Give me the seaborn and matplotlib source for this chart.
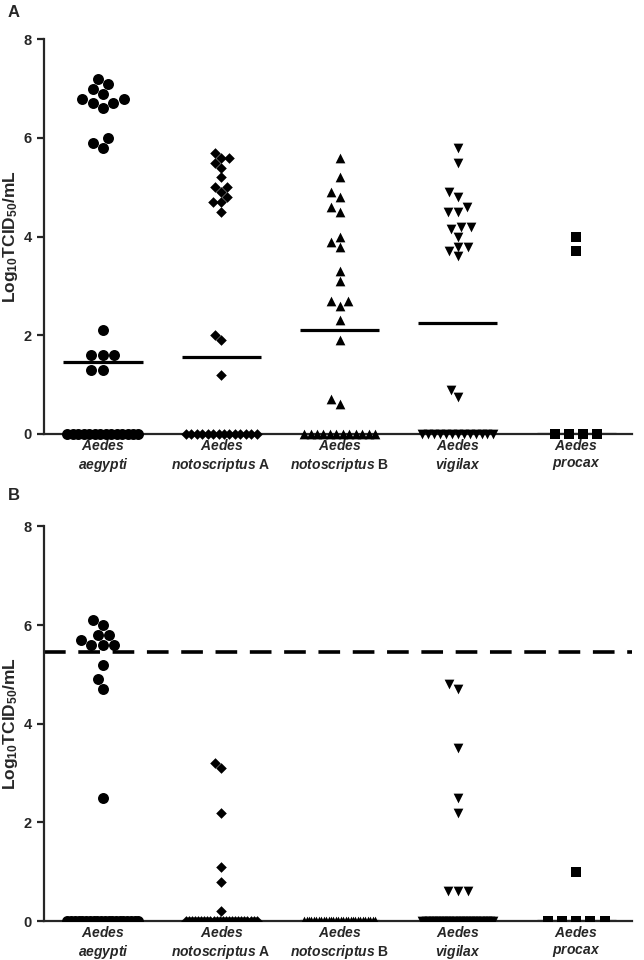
import numpy as np
import matplotlib.pyplot as plt
import pandas as pd
import seaborn as sns

species = ["aegypti", "notoscriptus A", "notoscriptus B", "vigilax", "procax"]
tick_labels = [
    r"$\mathit{Aedes}$" + "\n" + r"$\mathit{aegypti}$",
    r"$\mathit{Aedes}$" + "\n" + r"$\mathit{notoscriptus}$ A",
    r"$\mathit{Aedes}$" + "\n" + r"$\mathit{notoscriptus}$ B",
    r"$\mathit{Aedes}$" + "\n" + r"$\mathit{vigilax}$",
    r"$\mathit{Aedes}$" + "\n" + r"$\mathit{procax}$",
]
markers = ["o", "D", "^", "v", "s"]
marker_sizes = [7.9, 5.4, 7.0, 7.0, 7.0]

# panel A -- log10 TCID50/mL per mosquito
aegypti_a = [7.2, 7.1, 7.0, 6.9, 6.8, 6.8, 6.7, 6.7, 6.6, 6.0, 5.9, 5.8,
             2.1, 1.6, 1.6, 1.6, 1.3, 1.3] + [0.0] * 14
noto_a_a = [5.7, 5.6, 5.6, 5.5, 5.4, 5.2, 5.0, 5.0, 4.9, 4.8, 4.7, 4.7, 4.5,
            2.0, 1.9, 1.2] + [0.0] * 14
noto_b_a = [5.6, 5.2, 4.9, 4.8, 4.6, 4.5, 4.0, 3.9, 3.8, 3.3, 3.1, 2.7, 2.7,
            2.6, 2.3, 1.9, 0.7, 0.6] + [0.0] * 12
vigilax_a = [5.8, 5.5, 4.9, 4.8, 4.6, 4.5, 4.5, 4.2, 4.2, 4.15, 4.0, 3.8, 3.8,
             3.7, 3.6, 0.9, 0.75] + [0.0] * 13
procax_a = [4.0, 3.7] + [0.0] * 4

# panel B
aegypti_b = [6.1, 6.0, 5.8, 5.8, 5.7, 5.6, 5.6, 5.6, 5.2, 4.9, 4.7, 2.5] + [0.0] * 20
noto_a_b = [3.2, 3.1, 2.2, 1.1, 0.8, 0.2] + [0.0] * 24
noto_b_b = [0.0] * 30
vigilax_b = [4.8, 4.7, 3.5, 2.5, 2.2, 0.6, 0.6, 0.6] + [0.0] * 22
procax_b = [1.0] + [0.0] * 5
threshold_b = 5.45

sns.set_style("ticks")
plt.rcParams["font.family"] = ["Liberation Sans", "DejaVu Sans"]
plt.rcParams["font.weight"] = "bold"
plt.rcParams["mathtext.fontset"] = "custom"
plt.rcParams["mathtext.rm"] = "Liberation Sans:bold"
plt.rcParams["mathtext.it"] = "Liberation Sans:italic:bold"
plt.rcParams["mathtext.bf"] = "Liberation Sans:bold"


def draw_panel(ax, groups, clip_zero):
    df = pd.DataFrame({
        "species": np.repeat(species, [len(g) for g in groups]),
        "titre": np.concatenate(groups),
    })
    # median bars
    sns.boxplot(data=df, x="species", y="titre", order=species, ax=ax, width=0.67,
                showbox=False, showcaps=False, showfliers=False,
                whiskerprops={"visible": False},
                medianprops={"color": "black", "linewidth": 2.3})
    for i, (sp, mk, sz) in enumerate(zip(species, markers, marker_sizes)):
        sub = df[df.species == sp]
        pos = sub[sub.titre > 0]
        if len(pos):
            sns.swarmplot(data=pos, x="species", y="titre", order=species, ax=ax,
                          marker=mk, size=sz, color="black", linewidth=0, zorder=3)
        n0 = int((sub.titre == 0).sum())
        if n0:
            step = min(0.12, 0.6 / max(n0 - 1, 1))
            offs = (np.arange(n0) - (n0 - 1) / 2) * step
            sns.scatterplot(x=i + offs, y=np.zeros(n0), ax=ax, marker=mk, s=sz ** 2,
                            color="black", linewidth=0, clip_on=clip_zero, zorder=3)
    ax.set_xlim(-0.5, 4.47)
    ax.set_ylim(0, 8)
    ax.set_yticks([0, 2, 4, 6, 8])
    ax.set_xticks(range(len(species)))
    ax.set_xticklabels(tick_labels, fontsize=10, linespacing=1.25)
    ax.set_xlabel("")
    ax.set_ylabel("Log$_{10}$TCID$_{50}$/mL", fontsize=12.5, fontweight="bold")
    ax.yaxis.set_label_coords(-0.04, 0.5)
    ax.tick_params(axis="x", length=0, pad=3)
    ax.tick_params(axis="y", length=5, width=1.6, labelsize=10.5)
    for lab in ax.get_yticklabels():
        lab.set_fontweight("bold")
    sns.despine(ax=ax)
    for s in ["left", "bottom"]:
        ax.spines[s].set_linewidth(1.6)


fig = plt.figure(figsize=(6.44, 9.6), dpi=100)
ax_a = fig.add_axes([0.068, 0.548, 0.913, 0.411])
ax_b = fig.add_axes([0.068, 0.0406, 0.913, 0.411])

draw_panel(ax_a, [aegypti_a, noto_a_a, noto_b_a, vigilax_a, procax_a], False)
draw_panel(ax_b, [aegypti_b, noto_a_b, noto_b_b, vigilax_b, procax_b], True)
ax_b.axhline(threshold_b, color="black", linewidth=2.6, linestyle=(0, (6, 3.5)), zorder=2)

fig.text(0.012, 0.995, "A", fontsize=12, fontweight="bold", va="top")
fig.text(0.012, 0.492, "B", fontsize=12, fontweight="bold", va="top")

fig.savefig("out.png", dpi=100)
